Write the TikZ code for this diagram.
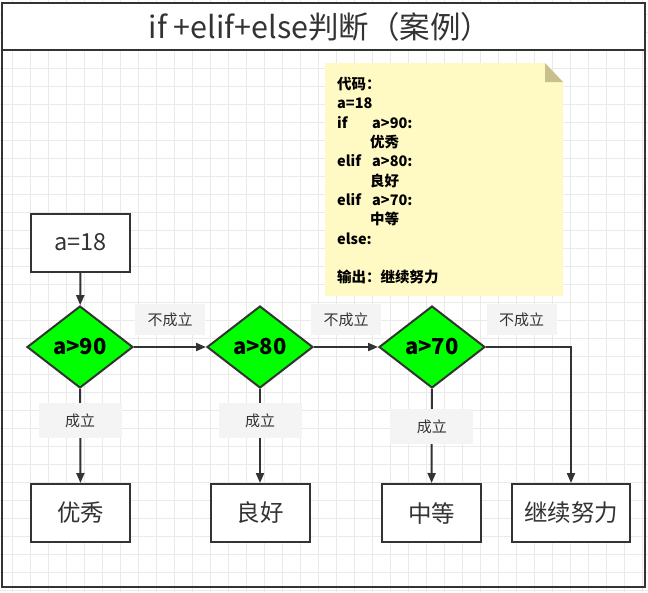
\documentclass[tikz,border=0pt]{standalone}
\usepackage{fontspec}
\setmainfont{Noto Sans CJK SC}
\usepackage{xcolor}
\usetikzlibrary{arrows.meta,positioning,shapes.geometric}
\definecolor{ink}{RGB}{51,51,51}
\definecolor{gridline}{RGB}{234,234,234}
\definecolor{notefill}{RGB}{255,249,196}
\definecolor{notefold}{RGB}{200,192,140}
\definecolor{labelbg}{RGB}{244,244,244}
\definecolor{testfill}{RGB}{0,255,0}
\tikzset{
  box/.style={draw=ink,line width=2pt,fill=white,minimum width=99pt,minimum height=58pt,
              inner sep=0pt,text=ink,font=\fontsize{23.5}{27}\selectfont},
  test/.style={diamond,draw=ink,line width=2pt,fill=testfill,minimum width=106pt,
               minimum height=82pt,inner sep=0pt,font=\bfseries\fontsize{22}{25}\selectfont},
  flow/.style={draw=ink,line width=2pt,->},
  tag/.style={fill=labelbg,text=ink,inner sep=0pt,font=\fontsize{15}{17}\selectfont},
}

\begin{document}
\begin{tikzpicture}[x=1pt,y=-1pt,>={Triangle[length=10pt,width=8pt]}]
  \useasboundingbox (0,0) rectangle (648,592);
  % grid
  \foreach \gx in {12.3,30.3,...,648} \draw[gridline,line width=0.8pt] (\gx,0)--(\gx,592);
  \foreach \gy in {14,32,...,592} \draw[gridline,line width=0.8pt] (0,\gy)--(648,\gy);
  % frame and title
  \fill[white] (2,3) rectangle (645,50);
  \draw[ink,line width=2pt] (2,3) rectangle (645,587);
  \draw[ink,line width=2pt] (2,50)--(645,50);
  \node[text=ink,font=\fontsize{30.5}{34}\selectfont] (title) at (320,27) {if +elif+else判断（案例）};
  % code note
  \fill[notefill] (325,63)--(545,63)--(563,82)--(563,296)--(325,296)--cycle;
  \fill[notefold] (545,63)--(563,82)--(545,82)--cycle;
  \node[anchor=north west,inner sep=0pt,align=left,font=\bfseries\fontsize{14.5}{19.3}\selectfont] (code) at (337,77)
    {代码：\\ a=18\\ \makebox[35pt][l]{if}a>90:\\ \hspace*{33pt}优秀\\ \makebox[35pt][l]{elif}a>80:\\
     \hspace*{33pt}良好\\ \makebox[35pt][l]{elif}a>70:\\ \hspace*{33pt}中等\\ else:\\ \mbox{}\\ 输出：继续努力};
  % nodes
  \node[box] (start) at (80.5,242.5) {a=18};
  \node[test] (t90) at (80,347) {a>90};
  \node[test] (t80) at (260,347) {a>80};
  \node[test] (t70) at (432,347) {a>70};
  \node[box] (good) at (80.5,513) {优秀};
  \node[box] (fine) at (260,513) {良好};
  \node[box] (mid) at (431.5,513) {中等};
  \node[box,minimum width=118pt] (rest) at (571,513) {继续努力};
  % connectors
  \draw[flow] (start)--(t90);
  \draw[flow] (t90)--(t80) node[tag,midway,above=11pt,minimum width=70pt,minimum height=31pt]{不成立};
  \draw[flow] (t80)--(t70) node[tag,midway,above=11pt,minimum width=70pt,minimum height=31pt]{不成立};
  \draw[flow] (t70.east)-|(rest.north) node[tag,pos=0.21,above=11pt,minimum width=70pt,minimum height=31pt]{不成立};
  \draw[flow] (t90)--(good) node[tag,pos=0.34,minimum width=83pt,minimum height=35pt]{成立};
  \draw[flow] (t80)--(fine) node[tag,pos=0.34,minimum width=83pt,minimum height=35pt]{成立};
  \draw[flow] (t70)--(mid) node[tag,pos=0.40,minimum width=83pt,minimum height=35pt]{成立};
\end{tikzpicture}
\end{document}
